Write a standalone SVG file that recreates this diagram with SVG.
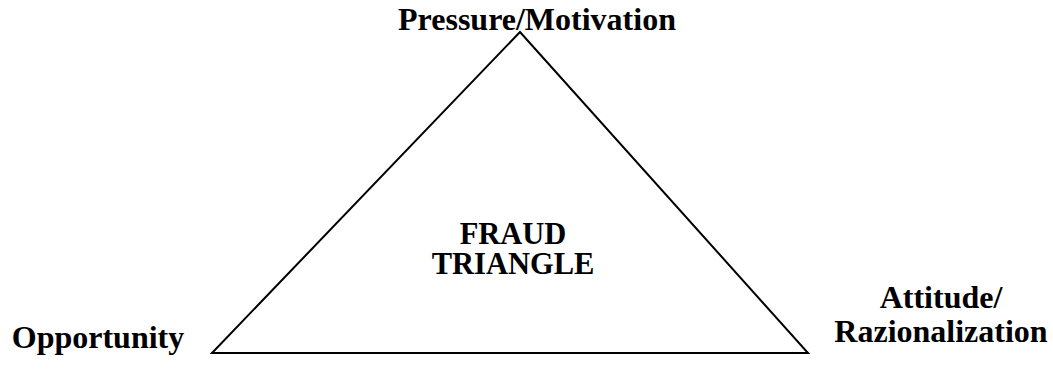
<svg xmlns="http://www.w3.org/2000/svg" width="1053" height="374" viewBox="0 0 1053 374">
<style>
.lbl{font-family:"Liberation Serif","Times New Roman",serif;font-weight:bold;font-size:32px;fill:#000}
.ctr{font-size:30.5px}
.tri{fill:none;stroke:#000;stroke-width:2}
</style>
<rect width="1053" height="374" fill="#fff"/>
<g id="connectors">
<polygon class="tri" points="520,32 212,353 808,353"/>
</g>
<g id="pressure"><text class="lbl" x="537" y="30" text-anchor="middle">Pressure/Motivation</text></g>
<g id="opportunity"><text class="lbl" x="98" y="348" text-anchor="middle">Opportunity</text></g>
<g id="attitude"><text class="lbl" x="941" y="308" text-anchor="middle">Attitude/</text><text class="lbl" x="941" y="342" text-anchor="middle">Razionalization</text></g>
<g id="fraud"><text class="lbl ctr" x="513" y="244" text-anchor="middle">FRAUD</text><text class="lbl ctr" x="513" y="274" text-anchor="middle">TRIANGLE</text></g>
</svg>
